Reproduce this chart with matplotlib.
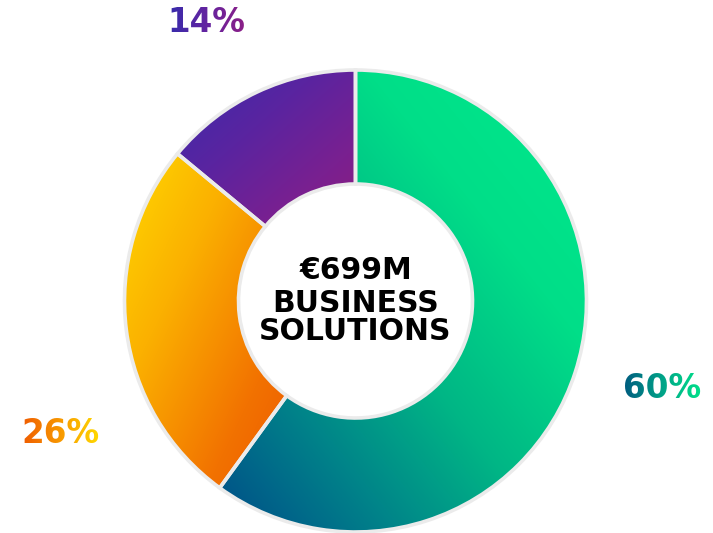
import numpy as np
import matplotlib
matplotlib.use("Agg")
import matplotlib.pyplot as plt
from matplotlib.patches import Wedge
from matplotlib.colors import LinearSegmentedColormap

# Revenue split of the Business Solutions division
shares = [60, 26, 14]
segment_stops = [
    [(0.0, "#00ea8c"), (0.3, "#00de88"), (0.55, "#00b685"), (0.8, "#007b8a"), (1.0, "#004c88")],
    [(0.0, "#ffd800"), (0.35, "#fbb000"), (0.75, "#f27200"), (1.0, "#ee5a00")],
    [(0.0, "#3a2bab"), (0.4, "#5a24a0"), (0.75, "#7a2090"), (1.0, "#8c1d7e")],
]
label_stops = [
    ["#005f80", "#00a488", "#00e08a"],
    ["#f06000", "#f89a00", "#ffd800"],
    ["#3a2bab", "#6424a0", "#8a1f88"],
]
center_lines = ["€699M", "BUSINESS", "SOLUTIONS"]

W, H = 713, 533
fig = plt.figure(figsize=(W / 100, H / 100), dpi=100)
ax = fig.add_axes([0, 0, 1, 1])
ax.axis("off")

cx, cy = 355.5, H - 301
r_out, ring = 231, 114
edge = "#ebebeb"


def gradient_image(nx, ny, mode, cmap):
    u = np.linspace(0, 1, nx)[None, :]
    v = np.linspace(0, 1, ny)[:, None]
    if mode == "tr_to_bl":
        t = ((1 - u) + v) / 2
    else:
        t = (u + v) / 2
    return cmap(t)


modes = ["tr_to_bl", "tl_to_br", "tl_to_br"]
start = 90.0
for share, stops, mode in zip(shares, segment_stops, modes):
    theta2 = start
    theta1 = start - share * 3.6
    clip = Wedge((cx, cy), r_out, theta1, theta2, width=ring,
                 facecolor="none", edgecolor="none")
    ax.add_patch(clip)
    ang = np.radians(np.linspace(theta1, theta2, 200))
    xs = np.concatenate([cx + r_out * np.cos(ang), cx + (r_out - ring) * np.cos(ang)])
    ys = np.concatenate([cy + r_out * np.sin(ang), cy + (r_out - ring) * np.sin(ang)])
    x0, x1, y0, y1 = xs.min(), xs.max(), ys.min(), ys.max()
    cmap = LinearSegmentedColormap.from_list("seg", stops)
    img = gradient_image(300, 300, mode, cmap)
    im = ax.imshow(img, extent=(x0, x1, y0, y1), origin="upper",
                   interpolation="bilinear", zorder=1)
    im.set_clip_path(clip)
    ax.add_patch(Wedge((cx, cy), r_out, theta1, theta2, width=ring,
                       facecolor="none", edgecolor=edge, linewidth=2.6, zorder=2))
    start = theta1


def horizontal_gradient(stops):
    cmap = LinearSegmentedColormap.from_list("txt", stops)

    def _filter(image, dpi):
        out = image.copy()
        w = out.shape[1]
        out[..., :3] = cmap(np.linspace(0, 1, w))[None, :, :3]
        return out, 0, 0
    return _filter


label_pos = [(662, 398), (60.5, 443), (206, 32)]
for share, stops, (lx, ly) in zip(shares, label_stops, label_pos):
    t = ax.text(lx, H - ly, f"{share}%", ha="center", va="baseline",
                fontsize=23.5, fontweight="bold", family="DejaVu Sans",
                color="black", zorder=5)
    t.set_agg_filter(horizontal_gradient(stops))

for line, base in zip(center_lines, [279, 312, 340]):
    ax.text(cx, H - base, line, ha="center", va="baseline", fontsize=21.5,
            fontweight="bold", family="DejaVu Sans", color="black", zorder=5)

ax.set_xlim(0, W)
ax.set_ylim(0, H)
ax.set_aspect("auto")
fig.savefig("out.png", dpi=100)
